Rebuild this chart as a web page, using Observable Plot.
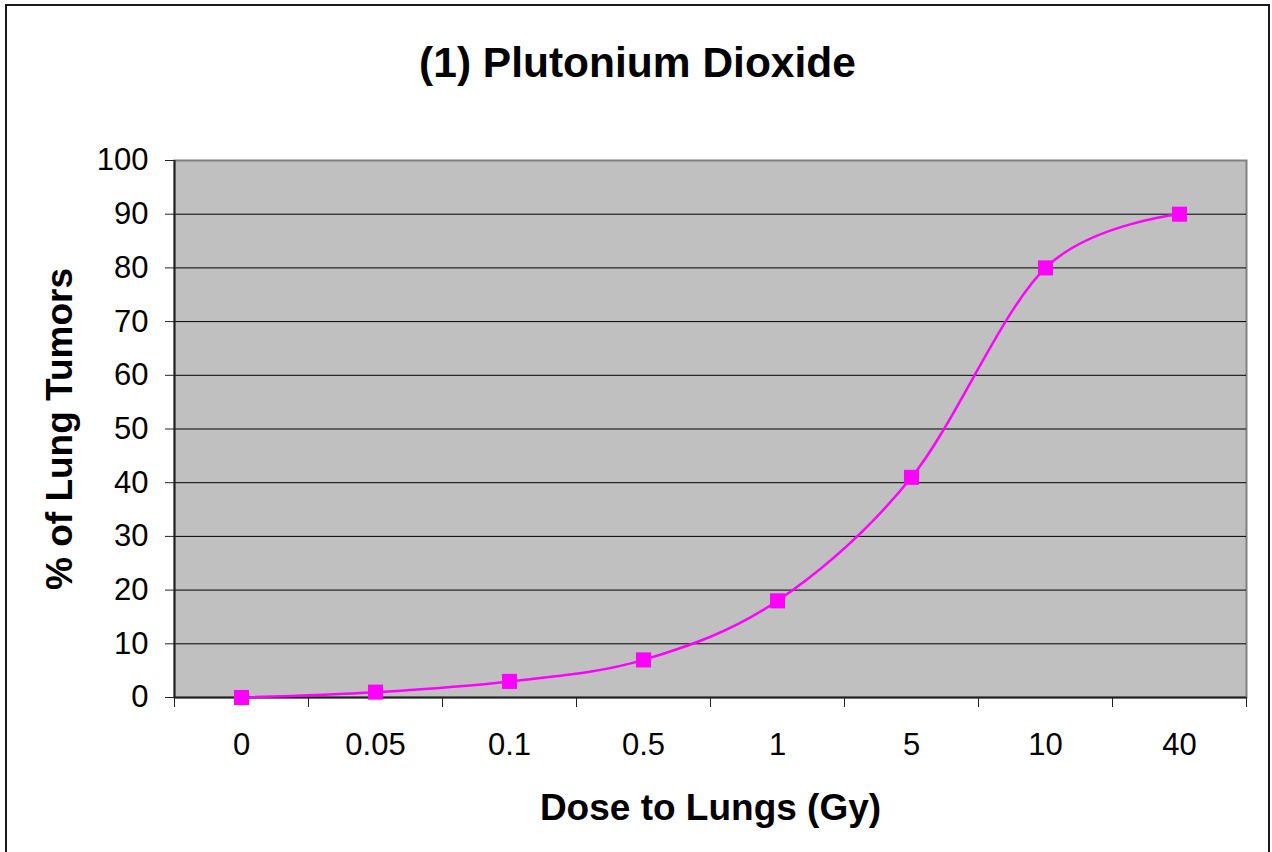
<!DOCTYPE html>
<html>
<head>
<meta charset="utf-8">
<script src="https://cdn.jsdelivr.net/npm/d3@7"></script>
<script src="https://cdn.jsdelivr.net/npm/@observablehq/plot@0.6"></script>
<style>
  html, body { margin: 0; padding: 0; background: #fff; }
  #wrap { position: relative; width: 1272px; height: 852px; overflow: hidden; }
  #border { position: absolute; left: 5px; top: 4px; width: 1261px; height: 880px; border: 2px solid #1a1a1a; pointer-events: none; }
  #chart { position: absolute; left: 0; top: 0; }
</style>
</head>
<body>
<div id="wrap">
  <div id="chart"></div>
  <div id="border"></div>
</div>
<script>
const categories = ["0", "0.05", "0.1", "0.5", "1", "5", "10", "40"];
const tumors = [0, 1, 3, 7, 18, 41, 80, 90];
const yTicks = [0, 10, 20, 30, 40, 50, 60, 70, 80, 90, 100];
const gridTicks = [10, 20, 30, 40, 50, 60, 70, 80, 90];
const titleText = "(1) Plutonium Dioxide";
const xLabel = "Dose to Lungs (Gy)";
const yLabel = "% of Lung Tumors";

const data = categories.map((c, i) => ({i, c, v: tumors[i]}));
const bounds = d3.range(categories.length + 1).map(i => i - 0.5);
const centers = d3.range(categories.length);

const chart = Plot.plot({
  width: 1272,
  height: 852,
  marginLeft: 174,
  marginRight: 26,
  marginTop: 160,
  marginBottom: 155,
  style: {fontFamily: "'Liberation Sans', Arial, sans-serif", background: "transparent", color: "#000"},
  x: {type: "linear", domain: [-0.5, categories.length - 0.5]},
  y: {domain: [0, 100]},
  marks: [
    Plot.frame({fill: "#c0c0c0", stroke: "#808080", strokeWidth: 2}),
    Plot.gridY(gridTicks, {stroke: "#000", strokeOpacity: 1, strokeWidth: 1}),
    Plot.ruleX([-0.5], {stroke: "#222", strokeWidth: 2}),
    Plot.ruleY([0], {stroke: "#222", strokeWidth: 2}),
    Plot.axisY(yTicks, {tickSize: 9, tickPadding: 17, fontSize: 31, label: null, stroke: "#222"}),
    Plot.axisX(bounds, {tickSize: 10, tickFormat: () => "", label: null, stroke: "#222"}),
    Plot.axisX(centers, {tickSize: 0, tickPadding: 35, fontSize: 31, tickFormat: i => categories[i], label: null}),
    Plot.line(data, {x: "i", y: "v", curve: "cardinal", stroke: "#ff00ff", strokeWidth: 2.5}),
    Plot.dot(data, {x: "i", y: "v", symbol: "square", r: 8.5, fill: "#ff00ff", stroke: "none"}),
    Plot.text([titleText], {frameAnchor: "top", lineAnchor: "middle", textAnchor: "middle", dx: -73, dy: -97, fontSize: 42.5, fontWeight: "bold", fill: "#000"}),
    Plot.text([xLabel], {frameAnchor: "bottom", lineAnchor: "middle", textAnchor: "middle", dy: 111, fontSize: 37, fontWeight: "bold", fill: "#000"}),
    Plot.text([yLabel], {frameAnchor: "left", lineAnchor: "middle", textAnchor: "middle", dx: -114, rotate: -90, fontSize: 37, fontWeight: "bold", fill: "#000"})
  ]
});
document.getElementById("chart").appendChild(chart);
</script>
</body>
</html>
